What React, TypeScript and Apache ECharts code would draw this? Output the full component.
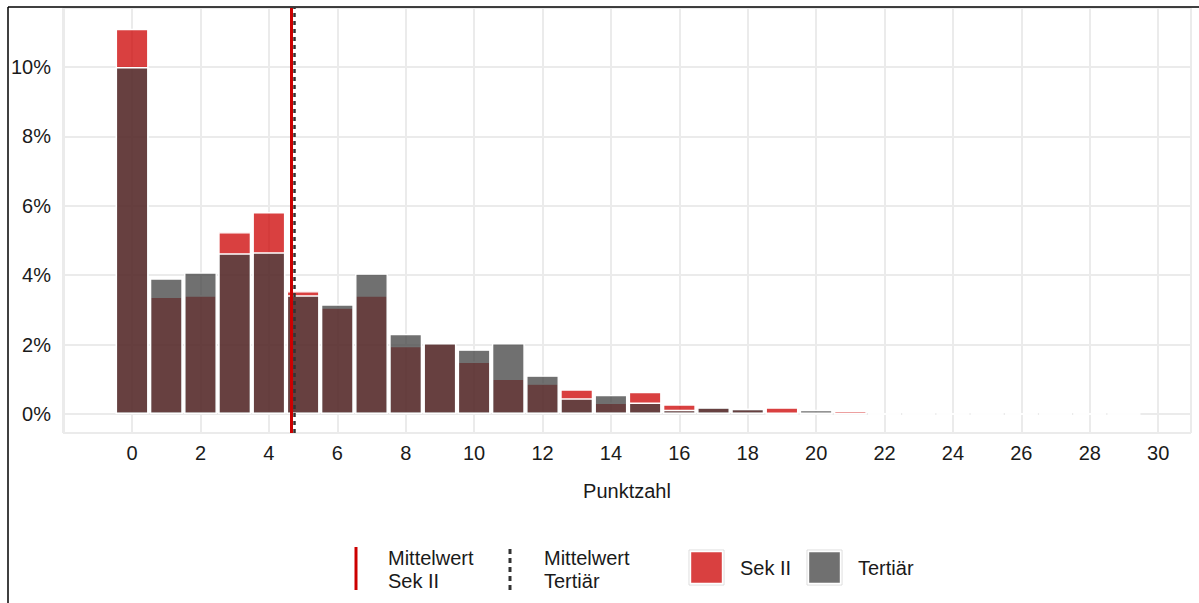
import React, { useEffect, useRef } from "react";
import * as echarts from "echarts";

// Punktzahl bins
const bins = [0, 1, 2, 3, 4, 5, 6, 7, 8, 9, 10, 11, 12, 13, 14, 15, 16, 17, 18, 19, 20, 21, 22, 23, 24, 25, 26, 27, 28, 29];
// share in percent
const sekII = [11.1, 3.38, 3.42, 5.24, 5.82, 3.54, 3.07, 3.42, 1.96, 2.05, 1.51, 1.02, 0.88, 0.71, 0.33, 0.64, 0.28, 0.19, 0.15, 0.19, 0, 0.1, 0, 0, 0, 0, 0, 0, 0, 0];
const tertiaer = [10.0, 3.91, 4.08, 4.63, 4.66, 3.42, 3.16, 4.05, 2.31, 2.04, 1.86, 2.04, 1.11, 0.45, 0.55, 0.33, 0.12, 0.19, 0.15, 0, 0.12, 0, 0, 0, 0, 0, 0, 0, 0, 0];
const meanSekII = 4.65;
const meanTertiaer = 4.74;
const xTicks = [0, 2, 4, 6, 8, 10, 12, 14, 16, 18, 20, 22, 24, 26, 28, 30];
const yTicks = [0, 2, 4, 6, 8, 10];

const RED = "rgba(204,0,0,0.75)";
const GREY = "rgba(64,64,64,0.75)";
const FONT = "'Liberation Sans', Arial, sans-serif";
const TXT = "#1a1a1a";

export default function App() {
  const ref = useRef<HTMLDivElement>(null);
  useEffect(() => {
    if (!ref.current) return;
    const chart = echarts.init(ref.current, null, { renderer: "svg" });
    const isTick = (v: number, list: number[]) => list.some((t) => Math.abs(t - v) < 1e-6);
    chart.setOption({
      animation: false,
      backgroundColor: "#fff",
      textStyle: { fontFamily: FONT },
      grid: { left: 63, right: 8, top: 8, bottom: 170, show: true, borderColor: "#d4d4d4", borderWidth: 1, backgroundColor: "transparent" },
      xAxis: {
        type: "value",
        min: -2.02,
        max: 30.96,
        splitNumber: 16,
        name: "Punktzahl",
        nameLocation: "middle",
        nameGap: 48,
        nameTextStyle: { fontSize: 20, color: TXT, fontFamily: FONT },
        axisLine: { show: false },
        axisTick: { show: false },
        axisLabel: {
          fontSize: 20,
          color: TXT,
          fontFamily: FONT,
          margin: 10,
          showMinLabel: true,
          showMaxLabel: true,
          formatter: (v: number) => (isTick(v, xTicks) ? String(Math.round(v)) : ""),
        },
        splitLine: { show: true, lineStyle: { color: "#ebebeb", width: 2 } },
      },
      yAxis: {
        type: "value",
        min: -0.548,
        max: 11.7,
        splitNumber: 6,
        axisLine: { show: false },
        axisTick: { show: false },
        axisLabel: {
          fontSize: 20,
          color: TXT,
          fontFamily: FONT,
          margin: 12,
          formatter: (v: number) => (isTick(v, yTicks) ? Math.round(v) + "%" : ""),
        },
        splitLine: { show: true, lineStyle: { color: "#ebebeb", width: 2 } },
      },
      series: [
        {
          name: "Sek II",
          type: "bar",
          data: bins.map((b, i) => [b, sekII[i]]),
          barWidth: "96%",
          barGap: "-100%",
          itemStyle: { color: RED, borderColor: "#fff", borderWidth: 1.4 },
          silent: true,
        },
        {
          name: "Tertiär",
          type: "bar",
          data: bins.map((b, i) => [b, tertiaer[i]]),
          barWidth: "96%",
          barGap: "-100%",
          itemStyle: { color: GREY, borderColor: "#fff", borderWidth: 1.4 },
          silent: true,
          markLine: {
            silent: true,
            symbol: "none",
            label: { show: false },
            data: [
              { xAxis: meanSekII, lineStyle: { color: "#cc0000", width: 3, type: "solid" } },
              { xAxis: meanTertiaer, lineStyle: { color: "#333333", width: 2.5, type: [4, 4] } },
            ],
          },
        },
      ],
      graphic: [
        { type: "line", shape: { x1: 8, y1: 7, x2: 1199, y2: 7 }, style: { stroke: "#000", lineWidth: 1.5 }, z: 100 },
        { type: "line", shape: { x1: 8, y1: 7, x2: 8, y2: 603 }, style: { stroke: "#000", lineWidth: 1.5 }, z: 100 },
        // legend
        { type: "line", shape: { x1: 356, y1: 547, x2: 356, y2: 590 }, style: { stroke: "#cc0000", lineWidth: 3 } },
        {
          type: "text",
          x: 388,
          y: 569,
          style: { text: "Mittelwert\nSek II", font: `20px ${FONT}`, fill: TXT, verticalAlign: "middle", lineHeight: 23 },
        },
        { type: "line", shape: { x1: 510, y1: 549, x2: 510, y2: 590 }, style: { stroke: "#333333", lineWidth: 3, lineDash: [5, 4] } },
        {
          type: "text",
          x: 544,
          y: 569,
          style: { text: "Mittelwert\nTertiär", font: `20px ${FONT}`, fill: TXT, verticalAlign: "middle", lineHeight: 23 },
        },
        { type: "rect", shape: { x: 689, y: 550, width: 35, height: 35 }, style: { fill: "#fff", stroke: "#dcdcdc", lineWidth: 1 } },
        { type: "rect", shape: { x: 690.5, y: 551.5, width: 32, height: 32 }, style: { fill: RED, stroke: "#fff", lineWidth: 1.4 } },
        { type: "text", x: 740, y: 568, style: { text: "Sek II", font: `20px ${FONT}`, fill: TXT, verticalAlign: "middle" } },
        { type: "rect", shape: { x: 807, y: 550, width: 35, height: 35 }, style: { fill: "#fff", stroke: "#dcdcdc", lineWidth: 1 } },
        { type: "rect", shape: { x: 808.5, y: 551.5, width: 32, height: 32 }, style: { fill: GREY, stroke: "#fff", lineWidth: 1.4 } },
        { type: "text", x: 858, y: 568, style: { text: "Tertiär", font: `20px ${FONT}`, fill: TXT, verticalAlign: "middle" } },
      ],
    });
    return () => chart.dispose();
  }, []);
  return (
    <div style={{ position: "fixed", left: 0, top: 0, width: 1199, height: 603, background: "#fff" }}>
      <div ref={ref} style={{ width: 1199, height: 603 }} />
    </div>
  );
}
